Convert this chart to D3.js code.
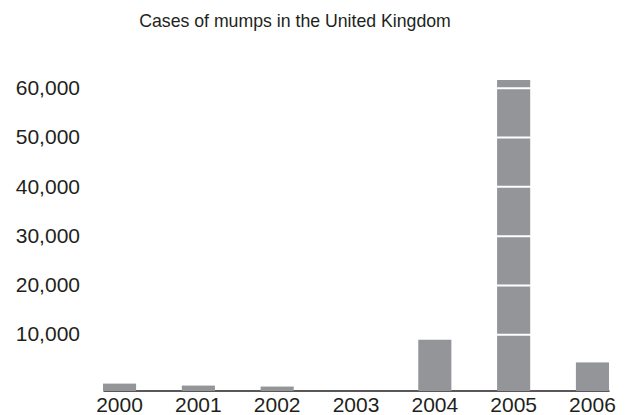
<!DOCTYPE html>
<html>
<head>
<meta charset="utf-8">
<script src="https://cdn.jsdelivr.net/npm/d3@7.9.0/dist/d3.min.js"></script>
<style>
  body { margin: 0; background: #fff; }
  svg { display: block; font-family: "Liberation Sans", Arial, Helvetica, sans-serif; }
</style>
</head>
<body>
<svg id="chart" width="631" height="415"></svg>
<script>
// data
const years = ['2000', '2001', '2002', '2003', '2004', '2005', '2006'];
const cases = [1400, 1000, 800, 0, 10300, 63000, 5700];
const tickValues = [10000, 20000, 30000, 40000, 50000, 60000];
const title = 'Cases of mumps in the United Kingdom';

const BAR_COLOR = '#939598';
const TEXT_COLOR = '#231f20';

const svg = d3.select('#chart');
const left = 103, right = 609, baseline = 390.5;

const x = d3.scaleBand()
    .domain(years)
    .range([left, right])
    .paddingInner(0.58)
    .paddingOuter(0);

const y = d3.scaleLinear()
    .domain([0, 63000])
    .range([baseline, 80]);

// title
svg.append('text')
    .attr('x', 295)
    .attr('y', 27)
    .attr('text-anchor', 'middle')
    .attr('font-size', 17.7)
    .attr('fill', TEXT_COLOR)
    .text(title);

// x axis (line sits under the bars)
const xAxis = svg.append('g')
    .attr('transform', `translate(0,${baseline})`)
    .call(d3.axisBottom(x).tickSize(0).tickPadding(7));
xAxis.select('.domain').attr('stroke', TEXT_COLOR).attr('stroke-width', 1.3);
xAxis.selectAll('text')
    .attr('font-size', 21)
    .attr('font-family', null)
    .attr('fill', TEXT_COLOR);

// bars
svg.selectAll('rect.bar')
    .data(years.map((yr, i) => ({ year: yr, value: cases[i] })))
    .enter()
    .append('rect')
    .attr('class', 'bar')
    .attr('x', d => x(d.year))
    .attr('width', x.bandwidth())
    .attr('y', d => y(d.value))
    .attr('height', d => d.value > 0 ? y(0) - y(d.value) + 0.5 : 0)
    .attr('fill', BAR_COLOR);

// y axis: white gridlines on top of bars; the original chart's grid sits ~7px high
const gridShift = 7;
const yAxis = svg.append('g')
    .attr('transform', `translate(${left},${-gridShift})`)
    .call(d3.axisLeft(y)
        .tickValues(tickValues)
        .tickFormat(d3.format(','))
        .tickSizeInner(-(right - left))
        .tickSizeOuter(0)
        .tickPadding(23));
yAxis.select('.domain').remove();
yAxis.selectAll('line').attr('stroke', '#fff').attr('stroke-width', 2);
yAxis.selectAll('text')
    .attr('font-size', 21)
    .attr('font-family', null)
    .attr('fill', TEXT_COLOR);
</script>
</body>
</html>
